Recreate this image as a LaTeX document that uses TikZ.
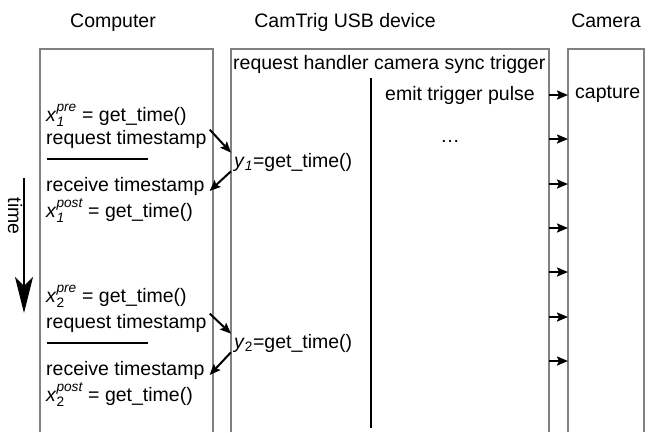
\documentclass[tikz,border=0pt]{standalone}
\usepackage{amsmath}
\usepackage{fontspec}
\setmainfont{Liberation Sans}
\usetikzlibrary{arrows.meta}

\begin{document}
\begin{tikzpicture}[x=1pt, y=-1pt,
  every node/.style={font=\fontsize{19.5}{20}\selectfont, inner sep=0pt, anchor=base west},
  lane/.style={draw=gray, line width=2pt},
  msg/.style={line width=2pt, -{Stealth[length=11pt,width=9pt,inset=2pt]}}]
  \useasboundingbox (0,0) rectangle (651,432);

  % lanes, open at the bottom
  \draw[lane] (40,432) |- (213,49) -- (213,432);
  \draw[lane] (231,432) |- (549,49) -- (549,432);
  \draw[lane] (568,432) |- (644,49) -- (644,432);
  \coordinate (usbE) at (549,0);
  \coordinate (camW) at (568,0);

  \node[anchor=base] (hcomp) at (113,27) {Computer};
  \node[anchor=base] (husb) at (345,27) {CamTrig USB device};
  \node[anchor=base] (hcam) at (606,27) {Camera};

  \node (handler) at (233,69) {request handler camera sync trigger};
  \draw[line width=2pt] (371,78) -- (371,428);
  \node (emit) at (385,100) {emit trigger pulse};
  \node (capture) at (575,98) {capture};
  \node[anchor=base] (dots) at (450,142) {\dots};

  \foreach \y in {95,139,184,228,272,317,361}
    \draw[msg] (usbE |- 0,\y) -- (camW |- 0,\y);

  % first timestamp request
  \node (pre1) at (46,121) {\textit{x}$^{\textit{pre}}_{\textit{1}}$ = get\_time()};
  \node (req1) at (46,144) {request timestamp};
  \draw[line width=2pt] (47,159) -- (148,159);
  \node (rcv1) at (46,191) {receive timestamp};
  \node (post1) at (46,217) {\textit{x}$^{\textit{post}}_{\textit{1}}$ = get\_time()};
  \node (y1) at (234,167) {\textit{y}$_{\textit{1}}$=get\_time()};
  \draw[msg] ([xshift=3pt]req1.north east) -- ([xshift=-3pt]y1.north west);
  \draw[msg] ([xshift=-3pt]y1.south west) -- ([xshift=5pt]rcv1.base east);

  % second timestamp request
  \node (pre2) at (46,302) {\textit{x}$^{\textit{pre}}_{\text{2}}$ = get\_time()};
  \node (req2) at (46,328) {request timestamp};
  \draw[line width=2pt] (47,343) -- (148,343);
  \node (rcv2) at (46,375) {receive timestamp};
  \node (post2) at (46,401) {\textit{x}$^{\textit{post}}_{\text{2}}$ = get\_time()};
  \node (y2) at (234,348) {\textit{y}$_{\text{2}}$=get\_time()};
  \draw[msg] ([xshift=3pt]req2.north east) -- ([xshift=-3pt]y2.north west);
  \draw[msg] ([xshift=-3pt]y2.south west) -- ([xshift=5pt]rcv2.base east);

  % time axis
  \coordinate (ttop) at (24,178);
  \coordinate (tbot) at (24,313);
  \draw[line width=2pt, -{Stealth[length=36pt,width=18pt,inset=9pt]}] (ttop) -- (tbot);
  \node[anchor=center, rotate=-90] (tlabel) at (15,216) {time};
\end{tikzpicture}
\end{document}
